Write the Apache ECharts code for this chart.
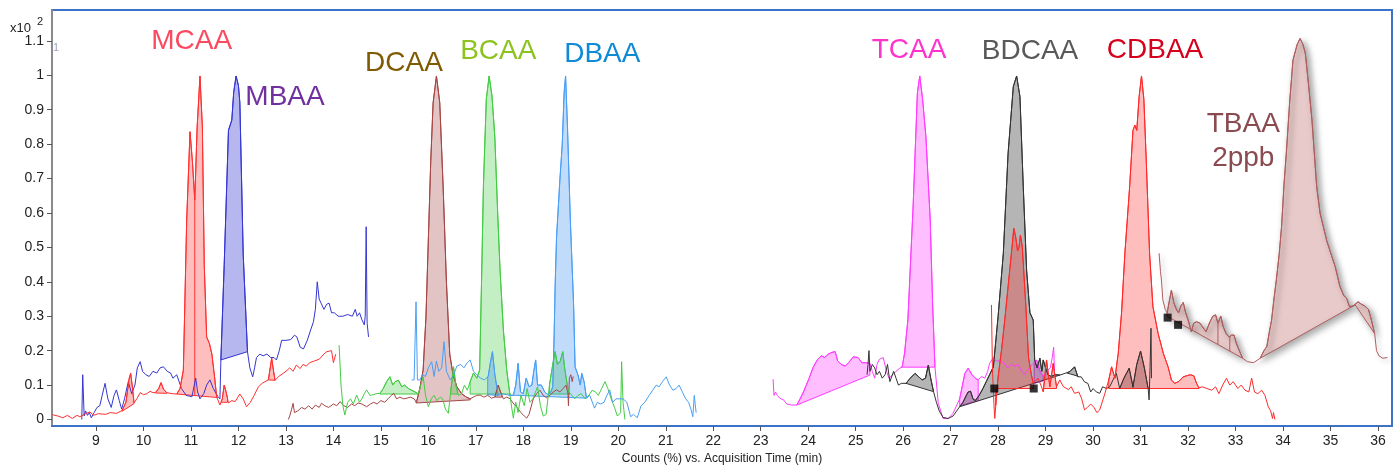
<!DOCTYPE html>
<html><head><meta charset="utf-8">
<script src="https://cdn.jsdelivr.net/npm/echarts@6/dist/echarts.min.js"></script>
<style>html,body{margin:0;padding:0;background:#fff}#c{width:1394px;height:466px}</style>
</head><body><div id="c"></div>
<script>
const xTicks=[9,10,11,12,13,14,15,16,17,18,19,20,21,22,23,24,25,26,27,28,29,30,31,32,33,34,35,36];
const yTicks=[0,0.1,0.2,0.3,0.4,0.5,0.6,0.7,0.8,0.9,1,1.1];

const mcaaTrace=[[8.08,0.014],[8.2,0.01],[8.3,0.005],[8.4,0.012],[8.5,0.003],[8.6,0.012],[8.66,0.008],[8.75,0.015],[8.87,0.022],[8.95,0.012],[9.05,0.017],[9.2,0.015],[9.3,0.02],[9.43,0.018],[9.55,0.026],[9.63,0.05],[9.7,0.12],[9.73,0.134],[9.77,0.09],[9.8,0.048],[9.86,0.06],[9.93,0.078],[10.0,0.072],[10.07,0.075],[10.14,0.082],[10.2,0.078],[10.25,0.078],[10.32,0.09],[10.37,0.107],[10.42,0.088],[10.49,0.078],[10.6,0.075],[10.7,0.074],[10.77,0.09],[10.84,0.144],[10.91,0.58],[10.98,0.836],[11.03,0.75],[11.08,0.638],[11.13,0.85],[11.19,0.998],[11.24,0.85],[11.28,0.45],[11.33,0.24],[11.39,0.22],[11.44,0.19],[11.5,0.12],[11.54,0.066],[11.61,0.042],[11.66,0.06],[11.7,0.10],[11.74,0.08],[11.79,0.048],[11.86,0.055],[11.93,0.052],[12.03,0.074],[12.1,0.06],[12.17,0.037],[12.25,0.05],[12.33,0.07],[12.42,0.095],[12.5,0.105],[12.56,0.11],[12.63,0.115],[12.7,0.178],[12.74,0.14],[12.77,0.114],[12.85,0.125],[12.94,0.134],[13.0,0.14],[13.08,0.15],[13.15,0.14],[13.22,0.158],[13.3,0.148],[13.36,0.16],[13.43,0.155],[13.5,0.165],[13.6,0.17],[13.7,0.175],[13.8,0.19],[13.86,0.197],[13.96,0.2],[14.0,0.165],[14.05,0.19]];
const mcaaPeaks=[[9.55,0.024,9.8,0.046],[10.25,0.077,10.49,0.076],[10.7,0.074,11.55,0.064],[11.64,0.05,11.77,0.05],[12.63,0.115,12.77,0.114]];
const mcaaSplits=[11.08];

const mbaaTrace=[[8.7,0.0],[8.72,0.13],[8.75,0.01],[8.78,0.025],[8.82,0.012],[8.86,0.02],[8.9,0.005],[8.96,0.02],[9.02,0.035],[9.08,0.04],[9.13,0.07],[9.19,0.105],[9.25,0.06],[9.32,0.035],[9.38,0.07],[9.43,0.086],[9.49,0.055],[9.54,0.03],[9.6,0.06],[9.68,0.11],[9.75,0.075],[9.82,0.1],[9.87,0.15],[9.93,0.168],[9.98,0.14],[10.05,0.13],[10.12,0.125],[10.2,0.14],[10.28,0.135],[10.35,0.15],[10.42,0.153],[10.5,0.14],[10.57,0.135],[10.62,0.12],[10.66,0.115],[10.7,0.13],[10.73,0.13],[10.8,0.09],[10.9,0.07],[11.02,0.066],[11.07,0.1],[11.1,0.12],[11.14,0.08],[11.19,0.06],[11.27,0.075],[11.33,0.1],[11.4,0.115],[11.47,0.09],[11.57,0.066],[11.61,0.06],[11.63,0.173],[11.7,0.45],[11.79,0.84],[11.86,0.87],[11.9,0.95],[11.95,0.998],[12.0,0.97],[12.03,0.92],[12.1,0.48],[12.19,0.197],[12.24,0.15],[12.3,0.124],[12.34,0.15],[12.38,0.18],[12.45,0.19],[12.52,0.185],[12.6,0.19],[12.68,0.18],[12.75,0.18],[12.8,0.173],[12.86,0.2],[12.91,0.23],[13.0,0.23],[13.1,0.232],[13.18,0.245],[13.23,0.24],[13.3,0.21],[13.37,0.205],[13.45,0.23],[13.52,0.26],[13.58,0.284],[13.62,0.32],[13.66,0.40],[13.7,0.35],[13.74,0.338],[13.8,0.32],[13.86,0.335],[13.91,0.338],[13.96,0.31],[14.02,0.31],[14.1,0.3],[14.2,0.3],[14.3,0.305],[14.4,0.3],[14.46,0.32],[14.5,0.3],[14.55,0.31],[14.6,0.29],[14.65,0.275],[14.67,0.3],[14.69,0.56],[14.71,0.28],[14.74,0.24]];
const mbaaPeaks=[[11.63,0.173,12.19,0.197]];
const mbaaSplits=[];

const dcaaTrace=[[13.05,0.0],[13.08,0.01],[13.12,0.03],[13.15,0.047],[13.18,0.02],[13.25,0.025],[13.33,0.035],[13.4,0.03],[13.48,0.04],[13.55,0.03],[13.62,0.042],[13.7,0.035],[13.75,0.047],[13.82,0.04],[13.9,0.035],[14.0,0.045],[14.07,0.04],[14.14,0.052],[14.22,0.04],[14.3,0.035],[14.38,0.045],[14.45,0.04],[14.52,0.048],[14.6,0.045],[14.7,0.037],[14.78,0.045],[14.85,0.05],[14.92,0.045],[15.0,0.055],[15.08,0.05],[15.15,0.06],[15.22,0.07],[15.27,0.076],[15.33,0.06],[15.4,0.065],[15.48,0.06],[15.55,0.062],[15.62,0.065],[15.7,0.06],[15.75,0.05],[15.82,0.09],[15.89,0.144],[15.95,0.3],[15.99,0.48],[16.05,0.75],[16.1,0.92],[16.17,0.998],[16.24,0.92],[16.31,0.68],[16.38,0.4],[16.45,0.19],[16.52,0.13],[16.6,0.095],[16.7,0.075],[16.8,0.065],[16.88,0.06],[16.95,0.065],[17.02,0.07],[17.09,0.071],[17.17,0.065],[17.25,0.07],[17.33,0.062],[17.4,0.065],[17.47,0.1],[17.52,0.08],[17.58,0.06],[17.65,0.065],[17.72,0.06],[17.8,0.045],[17.87,0.035],[17.95,0.02],[18.02,0.01],[18.07,0.004],[18.12,0.015],[18.21,0.06],[18.28,0.075],[18.35,0.085],[18.42,0.07],[18.49,0.063],[18.56,0.07],[18.63,0.08],[18.7,0.086],[18.77,0.08],[18.84,0.09],[18.9,0.1],[18.94,0.075],[18.95,0.04],[18.97,0.12],[19.0,0.13],[19.03,0.11],[19.05,0.125]];
const dcaaPeaks=[[15.74,0.048,16.88,0.057],[17.41,0.065,17.55,0.065]];
const dcaaSplits=[];

const bcaaTrace=[[14.12,0.216],[14.16,0.1],[14.2,0.04],[14.24,0.013],[14.3,0.05],[14.36,0.06],[14.42,0.045],[14.49,0.071],[14.55,0.05],[14.6,0.06],[14.65,0.075],[14.7,0.086],[14.77,0.07],[14.84,0.072],[14.9,0.075],[14.98,0.076],[15.05,0.09],[15.12,0.11],[15.19,0.124],[15.25,0.1],[15.3,0.11],[15.37,0.114],[15.44,0.095],[15.5,0.1],[15.58,0.09],[15.65,0.085],[15.72,0.08],[15.79,0.074],[15.84,0.1],[15.89,0.124],[15.94,0.07],[16.0,0.037],[16.06,0.06],[16.12,0.07],[16.18,0.055],[16.25,0.065],[16.3,0.06],[16.36,0.03],[16.42,0.018],[16.47,0.08],[16.53,0.153],[16.58,0.1],[16.63,0.07],[16.7,0.075],[16.76,0.1],[16.82,0.085],[16.88,0.11],[16.95,0.135],[17.02,0.12],[17.08,0.144],[17.12,0.4],[17.16,0.68],[17.22,0.93],[17.28,0.998],[17.34,0.94],[17.4,0.82],[17.46,0.6],[17.51,0.434],[17.58,0.26],[17.65,0.144],[17.72,0.07],[17.76,0.03],[17.79,0.004],[17.84,0.05],[17.89,0.02],[17.95,0.07],[18.02,0.04],[18.08,0.09],[18.14,0.05],[18.2,0.06],[18.3,0.095],[18.36,0.04],[18.42,0.01],[18.48,0.015],[18.55,0.1],[18.62,0.16],[18.67,0.197],[18.72,0.16],[18.78,0.17],[18.83,0.197],[18.88,0.14],[18.95,0.08],[19.0,0.074],[19.08,0.06],[19.15,0.07],[19.22,0.075],[19.3,0.06],[19.38,0.07],[19.45,0.085],[19.52,0.08],[19.58,0.07],[19.65,0.09],[19.72,0.11],[19.78,0.09],[19.85,0.06],[19.92,0.035],[19.98,0.01],[20.05,0.02],[20.07,0.168],[20.1,0.05],[20.14,0.0]];
const bcaaPeaks=[[14.98,0.074,15.79,0.074],[16.47,0.074,16.62,0.074],[16.88,0.074,17.72,0.074],[18.55,0.074,18.98,0.074]];
const bcaaSplits=[];

const dbaaTrace=[[15.65,0.115],[15.7,0.115],[15.74,0.342],[15.77,0.115],[15.82,0.115],[15.88,0.13],[15.94,0.125],[16.0,0.15],[16.07,0.168],[16.12,0.125],[16.17,0.17],[16.22,0.14],[16.28,0.15],[16.33,0.226],[16.38,0.14],[16.46,0.115],[16.52,0.125],[16.6,0.155],[16.68,0.16],[16.75,0.15],[16.82,0.165],[16.88,0.173],[16.95,0.14],[17.02,0.13],[17.1,0.12],[17.18,0.115],[17.26,0.125],[17.3,0.16],[17.35,0.197],[17.4,0.13],[17.47,0.07],[17.55,0.075],[17.65,0.072],[17.72,0.07],[17.79,0.07],[17.84,0.1],[17.89,0.163],[17.94,0.08],[18.0,0.075],[18.06,0.12],[18.12,0.095],[18.18,0.1],[18.22,0.14],[18.26,0.173],[18.3,0.1],[18.38,0.1],[18.45,0.08],[18.52,0.072],[18.58,0.08],[18.62,0.095],[18.65,0.25],[18.67,0.386],[18.7,0.53],[18.77,0.696],[18.82,0.8],[18.86,0.95],[18.89,0.998],[18.93,0.85],[18.99,0.58],[19.06,0.328],[19.09,0.153],[19.15,0.13],[19.2,0.1],[19.23,0.134],[19.28,0.11],[19.33,0.062],[19.4,0.07],[19.5,0.033],[19.56,0.05],[19.62,0.045],[19.7,0.05],[19.76,0.07],[19.82,0.086],[19.88,0.05],[19.95,0.06],[20.02,0.06],[20.1,0.06],[20.18,0.05],[20.26,0.008],[20.32,0.015],[20.4,0.005],[20.48,0.04],[20.56,0.05],[20.65,0.07],[20.73,0.086],[20.8,0.1],[20.86,0.095],[20.93,0.11],[21.01,0.124],[21.08,0.1],[21.15,0.085],[21.22,0.09],[21.28,0.1],[21.35,0.08],[21.42,0.06],[21.48,0.05],[21.53,0.03],[21.57,0.008],[21.6,0.07],[21.62,0.07],[21.64,0.02]];
const dbaaPeaks=[[17.25,0.072,17.47,0.07],[17.72,0.071,19.33,0.062]];
const dbaaSplits=[];

const tcaaTrace=[[23.26,0.117],[23.28,0.07],[23.31,0.08],[23.35,0.07],[23.4,0.062],[23.48,0.057],[23.55,0.045],[23.65,0.042],[23.76,0.042],[23.83,0.06],[23.9,0.08],[23.96,0.1],[24.02,0.12],[24.1,0.15],[24.15,0.163],[24.2,0.175],[24.28,0.185],[24.35,0.18],[24.42,0.19],[24.5,0.195],[24.57,0.197],[24.62,0.17],[24.7,0.16],[24.78,0.155],[24.85,0.165],[24.95,0.182],[25.05,0.18],[25.13,0.165],[25.22,0.165],[25.3,0.163],[25.35,0.14],[25.4,0.12],[25.45,0.16],[25.5,0.175],[25.58,0.18],[25.65,0.14],[25.7,0.12],[25.78,0.13],[25.85,0.14],[25.93,0.149],[25.98,0.153],[26.03,0.193],[26.1,0.29],[26.21,0.62],[26.3,0.95],[26.35,0.998],[26.41,0.93],[26.48,0.82],[26.57,0.58],[26.62,0.338],[26.67,0.153],[26.74,0.047],[26.84,0.003],[26.95,0.003],[27.05,0.018],[27.19,0.06],[27.25,0.1],[27.3,0.134],[27.37,0.149],[27.45,0.13],[27.52,0.12],[27.58,0.115],[27.65,0.125],[27.72,0.12],[27.78,0.14],[27.82,0.163],[27.9,0.18],[27.96,0.17],[28.05,0.17],[28.12,0.165],[28.2,0.15],[28.28,0.16],[28.35,0.155],[28.42,0.16],[28.5,0.14],[28.56,0.13],[28.6,0.13],[28.66,0.15],[28.72,0.16],[28.81,0.173],[28.88,0.14],[28.95,0.125],[29.03,0.14],[29.1,0.15],[29.14,0.18],[29.17,0.21],[29.19,0.13]];
const tcaaPeaks=[[23.76,0.042,25.3,0.129],[25.96,0.152,26.67,0.152],[27.19,0.04,27.58,0.055],[28.76,0.105,28.95,0.112]];
const tcaaSplits=[];

const bdcaaTrace=[[25.24,0.13],[25.26,0.16],[25.28,0.2],[25.3,0.14],[25.35,0.16],[25.4,0.15],[25.45,0.13],[25.5,0.14],[25.56,0.12],[25.62,0.13],[25.67,0.16],[25.72,0.11],[25.8,0.14],[25.85,0.12],[25.9,0.1],[25.96,0.105],[26.06,0.105],[26.15,0.12],[26.25,0.134],[26.32,0.125],[26.4,0.115],[26.47,0.12],[26.53,0.158],[26.58,0.12],[26.64,0.081],[26.7,0.05],[26.76,0.025],[26.84,0.006],[26.95,0.003],[27.05,0.01],[27.19,0.037],[27.26,0.05],[27.33,0.07],[27.37,0.08],[27.42,0.082],[27.47,0.06],[27.52,0.055],[27.6,0.07],[27.68,0.09],[27.75,0.11],[27.82,0.13],[27.9,0.153],[28.0,0.3],[28.11,0.483],[28.21,0.773],[28.32,0.967],[28.39,0.998],[28.46,0.938],[28.53,0.676],[28.6,0.434],[28.67,0.31],[28.74,0.289],[28.77,0.173],[28.82,0.15],[28.88,0.178],[28.92,0.14],[28.95,0.173],[29.0,0.15],[29.05,0.13],[29.12,0.125],[29.2,0.13],[29.3,0.129],[29.41,0.134],[29.51,0.139],[29.61,0.153],[29.68,0.124],[29.75,0.124],[29.82,0.109],[29.89,0.105],[29.95,0.08],[30.0,0.09],[30.07,0.08],[30.14,0.076],[30.2,0.095],[30.28,0.09],[30.35,0.095],[30.42,0.115],[30.49,0.134],[30.56,0.09],[30.65,0.12],[30.76,0.149],[30.84,0.095],[30.92,0.16],[31.0,0.199],[31.08,0.15],[31.16,0.09],[31.18,0.057],[31.2,0.15],[31.22,0.265],[31.23,0.12]];
const bdcaaPeaks=[[26.06,0.105,26.64,0.081],[27.19,0.037,29.3,0.129],[29.45,0.135,29.68,0.126],[30.56,0.09,31.16,0.09]];
const bdcaaSplits=[30.84];

const cdbaaTrace=[[27.86,0.333],[27.88,0.15],[27.91,0.05],[27.93,0.003],[27.96,0.06],[28.0,0.124],[28.07,0.2],[28.14,0.289],[28.21,0.386],[28.28,0.483],[28.33,0.555],[28.37,0.53],[28.41,0.49],[28.44,0.5],[28.47,0.536],[28.51,0.5],[28.58,0.338],[28.64,0.18],[28.7,0.13],[28.74,0.105],[28.78,0.1],[28.84,0.12],[28.9,0.1],[28.95,0.081],[29.02,0.173],[29.09,0.095],[29.16,0.163],[29.23,0.095],[29.3,0.115],[29.37,0.096],[29.48,0.087],[29.54,0.095],[29.61,0.076],[29.7,0.08],[29.76,0.06],[29.82,0.028],[29.88,0.035],[29.95,0.045],[30.02,0.035],[30.08,0.02],[30.14,0.028],[30.25,0.076],[30.33,0.115],[30.39,0.153],[30.46,0.12],[30.53,0.192],[30.6,0.31],[30.67,0.483],[30.77,0.676],[30.84,0.84],[30.88,0.855],[30.92,0.84],[30.97,0.938],[31.02,0.998],[31.07,0.93],[31.12,0.754],[31.19,0.483],[31.26,0.328],[31.37,0.25],[31.48,0.192],[31.58,0.153],[31.65,0.115],[31.72,0.105],[31.8,0.11],[31.9,0.124],[31.97,0.127],[32.05,0.13],[32.12,0.127],[32.18,0.105],[32.23,0.092],[32.3,0.095],[32.4,0.09],[32.5,0.085],[32.58,0.095],[32.65,0.075],[32.73,0.1],[32.81,0.12],[32.88,0.1],[32.95,0.11],[33.05,0.09],[33.12,0.1],[33.2,0.085],[33.28,0.08],[33.34,0.12],[33.4,0.08],[33.47,0.075],[33.55,0.085],[33.62,0.07],[33.69,0.037],[33.74,0.025],[33.78,0.003],[33.8,0.02],[33.83,0.0]];
const cdbaaPeaks=[[27.95,0.09,28.75,0.09],[28.95,0.09,29.23,0.09],[30.33,0.09,32.23,0.09]];
const cdbaaSplits=[];

const tbaaTrace=[[31.39,0.483],[31.42,0.43],[31.44,0.405],[31.47,0.347],[31.52,0.32],[31.56,0.309],[31.6,0.34],[31.65,0.376],[31.7,0.34],[31.76,0.318],[31.8,0.31],[31.85,0.33],[31.9,0.34],[31.95,0.31],[32.0,0.29],[32.07,0.255],[32.12,0.28],[32.18,0.284],[32.25,0.28],[32.3,0.27],[32.38,0.255],[32.45,0.28],[32.52,0.3],[32.58,0.304],[32.63,0.28],[32.69,0.3],[32.74,0.27],[32.8,0.25],[32.86,0.24],[32.92,0.245],[32.97,0.245],[33.02,0.22],[33.08,0.2],[33.15,0.178],[33.25,0.168],[33.38,0.165],[33.52,0.178],[33.6,0.2],[33.66,0.212],[33.72,0.26],[33.76,0.289],[33.81,0.35],[33.86,0.405],[33.92,0.48],[33.97,0.56],[34.02,0.68],[34.07,0.773],[34.14,0.92],[34.21,1.044],[34.3,1.09],[34.36,1.107],[34.42,1.09],[34.47,1.064],[34.54,0.97],[34.61,0.87],[34.71,0.676],[34.78,0.6],[34.85,0.56],[34.92,0.52],[34.99,0.49],[35.1,0.444],[35.2,0.386],[35.28,0.36],[35.34,0.352],[35.4,0.328],[35.48,0.33],[35.52,0.335],[35.58,0.342],[35.65,0.335],[35.72,0.33],[35.8,0.32],[35.86,0.29],[35.93,0.25],[35.97,0.2],[36.02,0.185],[36.1,0.178],[36.2,0.18]];
const tbaaPeaks=[[31.56,0.30,33.15,0.178],[33.52,0.178,35.52,0.333],[35.52,0.333,35.93,0.25]];
const tbaaSplits=[32.63,32.88];

const markerPoints=[[27.92,0.09],[28.75,0.09],[31.57,0.296],[31.79,0.275]];

const compounds=[
  {name:'MBAA',trace:mbaaTrace,peaks:mbaaPeaks,splits:mbaaSplits,line:'#3535d2',fill:'rgba(50,50,210,0.35)'},
  {name:'MCAA',trace:mcaaTrace,peaks:mcaaPeaks,splits:mcaaSplits,line:'#ff3030',fill:'rgba(255,40,40,0.3)'},
  {name:'DCAA',trace:dcaaTrace,peaks:dcaaPeaks,splits:dcaaSplits,line:'#a64646',fill:'rgba(160,60,60,0.3)'},
  {name:'BCAA',trace:bcaaTrace,peaks:bcaaPeaks,splits:bcaaSplits,line:'#44cc44',fill:'rgba(60,200,60,0.3)'},
  {name:'DBAA',trace:dbaaTrace,peaks:dbaaPeaks,splits:dbaaSplits,line:'#4a9ff5',fill:'rgba(50,140,240,0.3)'},
  {name:'TCAA',trace:tcaaTrace,peaks:tcaaPeaks,splits:tcaaSplits,line:'#ff3cff',fill:'rgba(255,40,255,0.3)'},
  {name:'BDCAA',trace:bdcaaTrace,peaks:bdcaaPeaks,splits:bdcaaSplits,line:'#333333',fill:'rgba(60,60,60,0.38)'},
  {name:'CDBAA',trace:cdbaaTrace,peaks:cdbaaPeaks,splits:cdbaaSplits,line:'#ff2a2a',fill:'rgba(255,40,40,0.3)'},
  {name:'TBAA',trace:tbaaTrace,peaks:tbaaPeaks,splits:tbaaSplits,line:'#b05e5e',fill:'#e8caca',shadow:true}
];

function interp(tr,t){
  if(t<=tr[0][0]) return tr[0][1];
  for(let i=1;i<tr.length;i++){
    if(tr[i][0]>=t){const a=tr[i-1],b=tr[i];return a[1]+(b[1]-a[1])*(t-a[0])/(b[0]-a[0]);}
  }
  return tr[tr.length-1][1];
}
function makeRender(c){
  return function(params,api){
    const t0=api.value(0),v0=api.value(1),t1=api.value(2),v1=api.value(3);
    const pts=[api.coord([t0,v0]),api.coord([t0,interp(c.trace,t0)])];
    c.trace.forEach(p=>{if(p[0]>t0&&p[0]<t1)pts.push(api.coord(p));});
    pts.push(api.coord([t1,interp(c.trace,t1)]));
    pts.push(api.coord([t1,v1]));
    const sh=c.shadow?{shadowBlur:7,shadowColor:'rgba(0,0,0,0.35)',shadowOffsetX:3,shadowOffsetY:3}:{};
    const children=[{type:'polygon',shape:{points:pts},style:Object.assign({fill:c.fill,stroke:c.line,lineWidth:1},sh)}];
    c.splits.forEach(s=>{
      if(s>t0&&s<t1){
        const vb=v0+(v1-v0)*(s-t0)/(t1-t0);
        const a=api.coord([s,vb]),b=api.coord([s,interp(c.trace,s)]);
        children.push({type:'line',shape:{x1:a[0],y1:a[1],x2:b[0],y2:b[1]},style:{stroke:c.line,lineWidth:1}});
      }
    });
    return {type:'group',children};
  };
}

const series=[];
compounds.forEach(c=>{
  series.push({type:'custom',name:c.name+' area',data:c.peaks,renderItem:makeRender(c),encode:{x:[0,2],y:[1,3]},z:2,silent:true,clip:true});
});
compounds.forEach(c=>{
  series.push({type:'line',name:c.name,data:c.trace,showSymbol:false,symbol:'none',z:3,silent:true,
    lineStyle:Object.assign({color:c.line,width:1},c.shadow?{shadowBlur:5,shadowColor:'rgba(0,0,0,0.3)',shadowOffsetX:3,shadowOffsetY:3}:{})});
});
series.push({type:'scatter',data:markerPoints,symbol:'rect',symbolSize:8,itemStyle:{color:'#000'},z:5,silent:true});

const FF='"Liberation Sans", Arial, sans-serif';
function label(text,x,y,color){
  return {type:'text',x:x,y:y,z:10,style:{text:text,fill:color,font:'28px '+FF,align:'center',verticalAlign:'middle'}};
}

const chart=echarts.init(document.getElementById('c'),null,{renderer:'canvas'});
chart.setOption({
  animation:false,
  backgroundColor:'#fff',
  grid:{left:52,right:2,top:10,bottom:40,show:true,borderColor:'#3c72c8',borderWidth:2,backgroundColor:'transparent',containLabel:false,outerBoundsMode:'none'},
  xAxis:{type:'value',min:8.073,max:36.296,
    axisLine:{show:true,onZero:false,lineStyle:{color:'#3c72c8',width:2}},
    axisTick:{show:true,customValues:xTicks,length:5,lineStyle:{color:'#555'}},
    axisLabel:{customValues:xTicks,fontSize:14,color:'#222',fontFamily:FF,margin:8},
    splitLine:{show:false},
    name:'Counts (%) vs. Acquisition Time (min)',nameLocation:'middle',nameGap:26,
    nameTextStyle:{fontSize:12,color:'#222',fontFamily:FF}},
  yAxis:{type:'value',min:-0.0189,max:1.1897,
    axisLine:{show:true,onZero:false,lineStyle:{color:'#8a8a8a',width:2}},
    axisTick:{show:true,customValues:yTicks,length:5,lineStyle:{color:'#555'}},
    axisLabel:{customValues:yTicks,fontSize:14,color:'#222',fontFamily:FF,margin:8},
    splitLine:{show:false}},
  series:series,
  graphic:[
    {type:'text',x:10,y:28,style:{text:'x10',fill:'#222',font:'13px '+FF,verticalAlign:'middle'}},
    {type:'text',x:37,y:22,style:{text:'2',fill:'#222',font:'11px '+FF,verticalAlign:'middle'}},
    {type:'text',x:56,y:48,style:{text:'1',fill:'#9aa4bc',font:'11px '+FF,align:'center',verticalAlign:'middle'}},
    label('MCAA',191.7,41.7,'#fb4a5f'),
    label('MBAA',285,97.5,'#7030a0'),
    label('DCAA',404,63.3,'#7f5a00'),
    label('BCAA',498.3,51.7,'#8cc31e'),
    label('DBAA',602.3,54,'#0f8ad6'),
    label('TCAA',909,50,'#ff33cc'),
    label('BDCAA',1030,51.7,'#595959'),
    label('CDBAA',1155,50.7,'#d6001c'),
    label('TBAA',1243.3,124,'#8a4a4f'),
    label('2ppb',1243.3,158,'#8a4a4f')
  ]
});
</script></body></html>
